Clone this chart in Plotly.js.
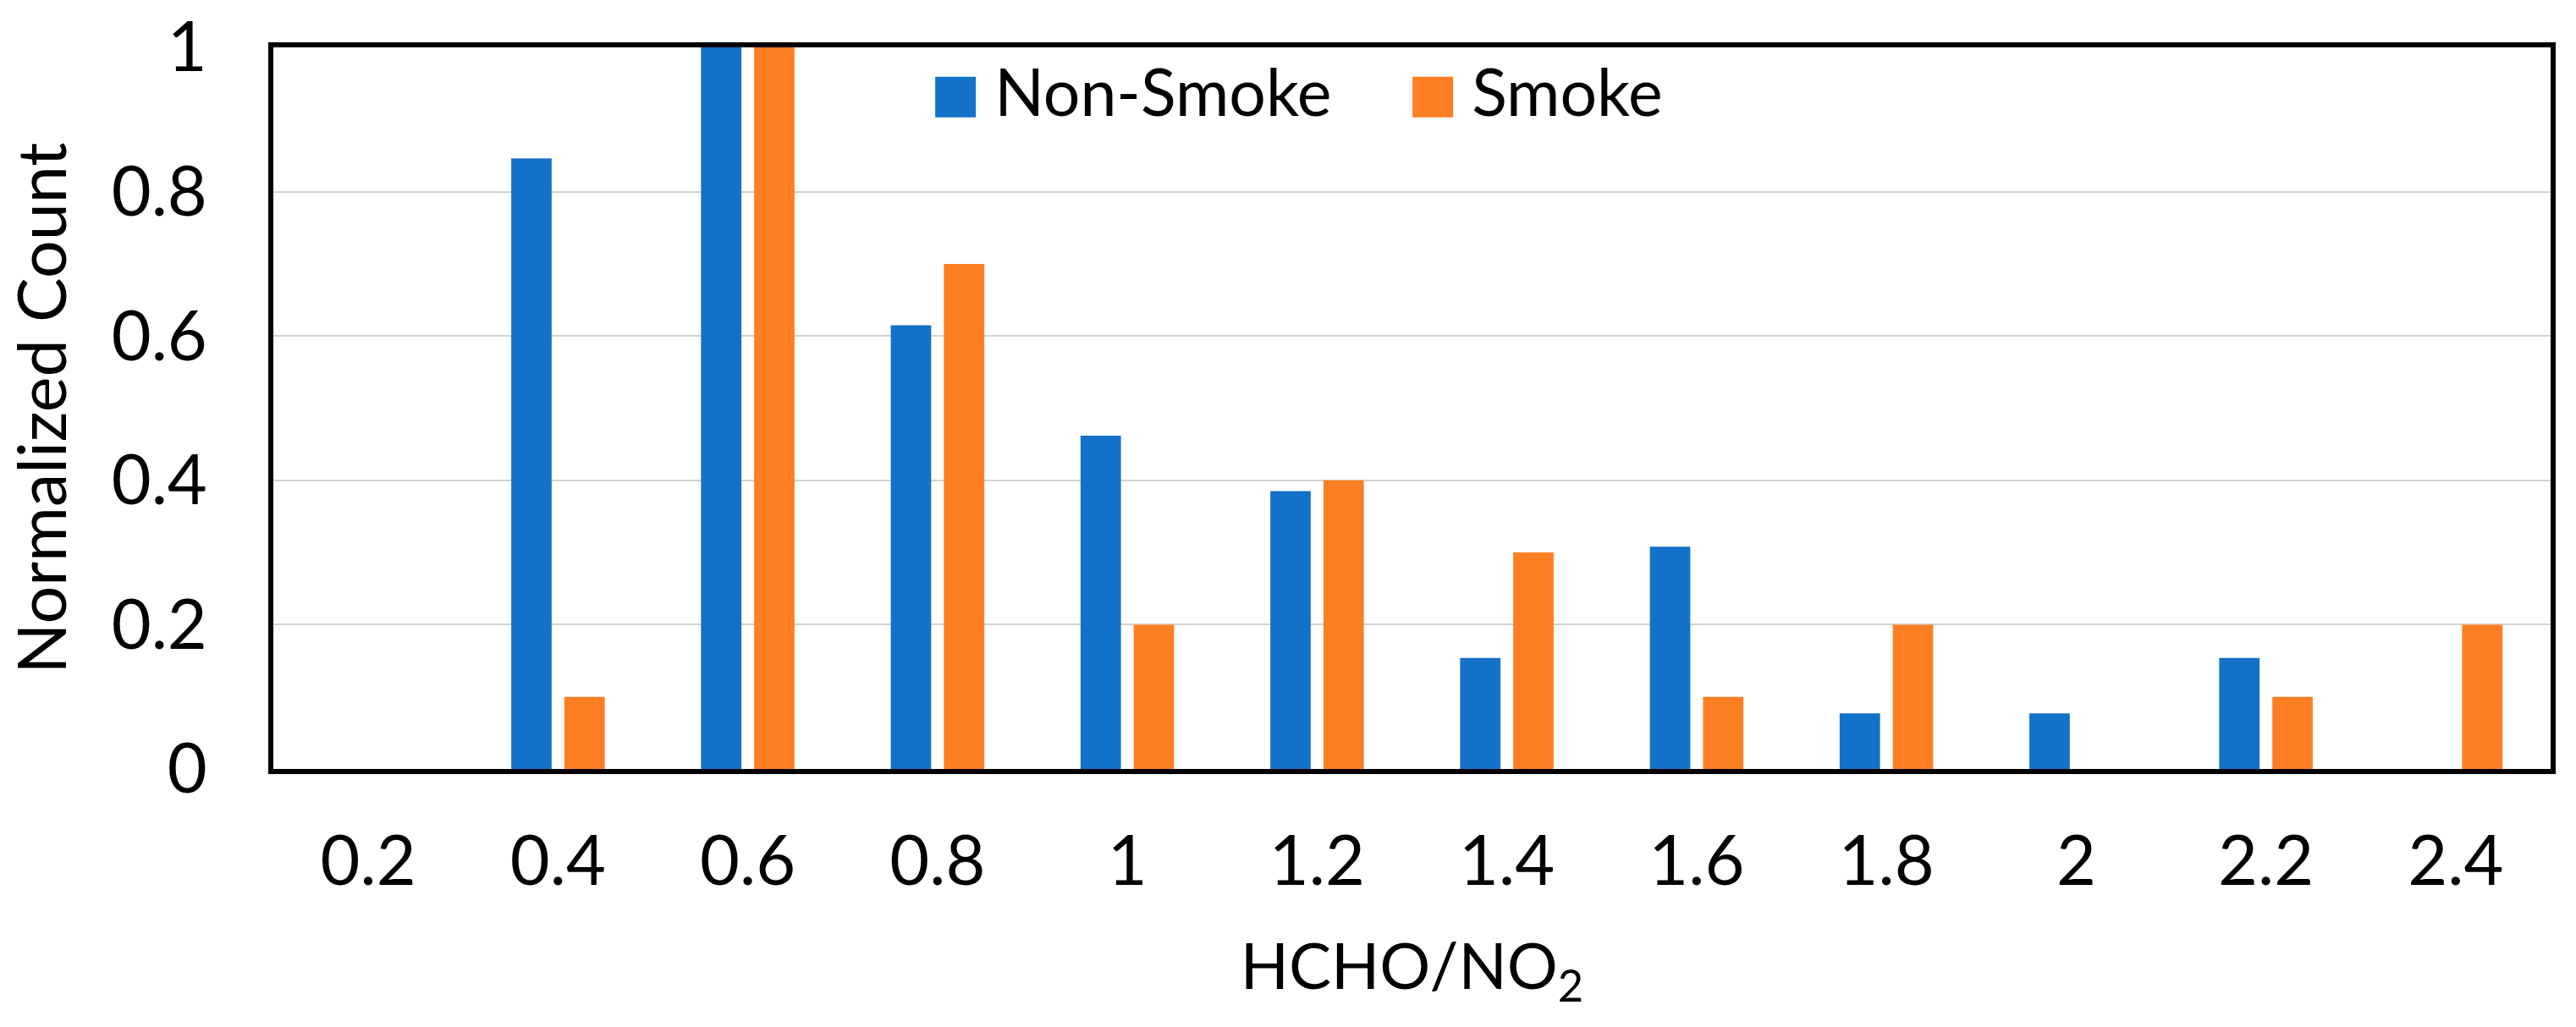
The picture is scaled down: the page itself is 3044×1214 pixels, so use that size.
<!DOCTYPE html>
<html>
<head>
<meta charset="utf-8">
<script src="https://cdn.plot.ly/plotly-3.0.1.min.js"></script>
<style>
  html, body { margin: 0; padding: 0; background: #ffffff; }
  #chart { width: 3044px; height: 1214px; }
  .legend .legendpoints path { transform: translate(54px, 8px) scale(4, 4); stroke-width: 0 !important; }
</style>
</head>
<body>
<div id="chart"></div>
<script>
// Category labels (HCHO/NO2 bins)
const categories = ['0.2', '0.4', '0.6', '0.8', '1', '1.2', '1.4', '1.6', '1.8', '2', '2.2', '2.4'];
// Normalized counts
const nonSmoke = [0, 0.846, 1.0, 0.615, 0.462, 0.385, 0.154, 0.308, 0.077, 0.077, 0.154, 0];
const smoke    = [0, 0.1,   1.0, 0.7,   0.2,   0.4,   0.3,   0.1,   0.2,   0,     0.1,   0.2];
// Y tick values
const yTicks = [0, 0.2, 0.4, 0.6, 0.8, 1];

const FONT = 'Lato, "Open Sans", sans-serif';

const traces = [
  { type: 'bar', name: 'Non-Smoke', x: categories, y: nonSmoke,
    marker: { color: '#1471C8' } },
  { type: 'bar', name: 'Smoke', x: categories, y: smoke,
    marker: { color: '#FE7E23' } }
];

const layout = {
  width: 3044, height: 1214,
  margin: { l: 323, r: 30, t: 56, b: 305 },
  paper_bgcolor: '#ffffff', plot_bgcolor: '#ffffff',
  font: { family: FONT, color: '#000000', size: 80 },
  barmode: 'group', bargap: 0.44, bargroupgap: 0.24,
  showlegend: true,
  legend: {
    orientation: 'h', x: 0.2795, y: 0.94, xanchor: 'left', yanchor: 'middle',
    font: { family: FONT, size: 77, color: '#000000' },
    bgcolor: 'rgba(0,0,0,0)', itemwidth: 90, entrywidth: 459, entrywidthmode: 'pixels',
    traceorder: 'normal'
  },
  xaxis: {
    type: 'category', categoryorder: 'array', categoryarray: categories,
    showline: true, mirror: true, linecolor: '#000000', linewidth: 6,
    showgrid: false, zeroline: false, ticks: '',
    ticklabelstandoff: 34,
    tickfont: { family: FONT, size: 81, color: '#000000' },
    title: { text: 'HCHO/NO<sub>2</sub>', font: { family: FONT, size: 75, color: '#000000' }, standoff: 56 }
  },
  yaxis: {
    range: [0, 1], tickvals: yTicks, ticktext: yTicks.map(String),
    showline: true, mirror: true, linecolor: '#000000', linewidth: 6,
    showgrid: true, gridcolor: '#d2d2d2', gridwidth: 2, zeroline: false, ticks: '',
    ticklabelstandoff: 56,
    tickfont: { family: FONT, size: 81, color: '#000000' },
    title: { text: 'Normalized Count', font: { family: FONT, size: 79, color: '#000000' }, standoff: 42 }
  }
};

Plotly.newPlot('chart', traces, layout, { displayModeBar: false, staticPlot: true });
</script>
</body>
</html>
